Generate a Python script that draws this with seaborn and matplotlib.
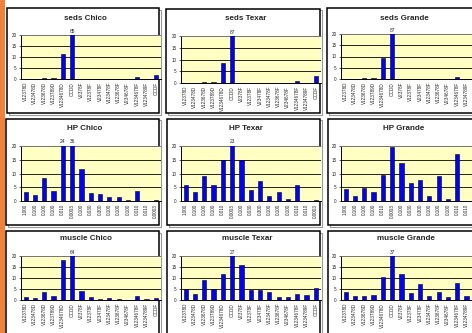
import matplotlib
matplotlib.use("Agg")
import matplotlib.pyplot as plt
import matplotlib.patches as mpatches
import seaborn as sns
import pandas as pd

sns.set_style("white")
plt.rcParams['font.family'] = ['Liberation Sans', 'DejaVu Sans']

congeners = ["V12378D", "V123478D", "V123678D", "V123789D", "V1234678D", "OCDD",
             "V2378F", "V12378F", "V23478F", "V123478F", "V123678F", "V234678F",
             "V1234678F", "V1234789F", "OCDF"]
tef_labels = ["1.000", "0.100", "0.100", "0.100", "0.010", "0.0003", "0.100", "0.030",
              "0.300", "0.100", "0.100", "0.100", "0.010", "0.010", "0.0003"]

seds_chico = [0, 0, 0.3, 0.3, 11.5, 85, 0, 0, 0, 0, 0, 0, 0.8, 0, 2.0]
seds_texar = [0, 0.2, 0.5, 0.5, 8.5, 87, 0, 0, 0, 0, 0, 0.2, 1.0, 0, 3.0]
seds_grande = [0, 0, 0.3, 0.5, 9.3, 87, 0, 0, 0, 0, 0, 0.1, 1.0, 0, 1.5]
hp_chico = [3.1, 2.2, 8.2, 3.6, 24, 36, 11.8, 2.8, 2.4, 1.3, 1.3, 0.5, 3.5, 0, 0.3]
hp_texar = [6.0, 3.1, 9.0, 5.7, 14.8, 23, 14.9, 3.9, 7.2, 1.7, 3.1, 0.8, 5.8, 0.1, 0.3]
hp_grande = [4.2, 2.0, 4.8, 3.1, 9.3, 19.5, 13.7, 6.4, 7.8, 2.0, 9.0, 0.6, 17.0, 0.1, 0.5]
muscle_chico = [1.5, 1.1, 3.8, 2.0, 18.3, 64, 4.0, 1.2, 0.5, 1.1, 0.6, 0.1, 2.0, 0.5, 1.0]
muscle_texar = [4.9, 2.6, 9.1, 5.2, 11.7, 27, 15.8, 4.5, 4.5, 3.8, 1.5, 1.2, 2.6, 2.3, 5.4]
muscle_grande = [3.5, 1.8, 1.7, 2.5, 10.3, 37, 11.7, 3.2, 7.2, 2.0, 3.8, 1.2, 7.8, 1.8, 3.0]

titles = ["seds Chico", "seds Texar", "seds Grande",
          "HP Chico", "HP Texar", "HP Grande",
          "muscle Chico", "muscle Texar", "muscle Grande"]
series = [seds_chico, seds_texar, seds_grande,
          hp_chico, hp_texar, hp_grande,
          muscle_chico, muscle_texar, muscle_grande]
yticks = [0, 5, 10, 15, 20]

W, H = 472, 333
fig = plt.figure(figsize=(W / 100, H / 100), dpi=100)
fig.patch.set_facecolor("white")

def fx(x):
    return x / W

def fy(y):
    return 1 - y / H

# left orange strip
fig.add_artist(mpatches.Rectangle((0, 0), fx(5), 1, transform=fig.transFigure,
                                  facecolor="#F0803A", edgecolor="none", zorder=-3))

# frames (x0, y0, x1, y1) in pixels
frames = [(7, 8, 159, 113), (166, 9, 320, 113), (327, 8, 480, 113),
          (6, 119, 159, 225), (167, 119, 320, 225), (328, 119, 480, 225),
          (6, 231, 159, 345), (167, 231, 320, 345), (328, 231, 480, 345)]
# plot areas (x0, top, bottom)
plots = [(21, 35, 79), (181, 36, 83), (341, 34, 79),
         (21, 146, 201), (181, 146, 201), (341, 146, 201),
         (21, 256, 300), (181, 256, 300), (341, 256, 300)]
title_pos = [(85, 18), (246, 18), (404, 19),
             (85, 128), (246, 128), (404, 128),
             (86, 239), (247, 239), (406, 239)]
PW = 139.5

for k in range(9):
    x0, y0, x1, y1 = frames[k]
    # soft shadow
    fig.add_artist(mpatches.Rectangle((fx(x0 + 1.5), fy(y1 + 1.5)), fx(x1 - x0), (y1 - y0) / H,
                                      transform=fig.transFigure, fill=False,
                                      edgecolor="#9a9a9a", linewidth=0.8, zorder=-2))
    fig.add_artist(mpatches.Rectangle((fx(x0), fy(y1)), fx(x1 - x0), (y1 - y0) / H,
                                      transform=fig.transFigure, facecolor="white",
                                      edgecolor="black", linewidth=1.1, zorder=-1))

for k in range(9):
    px, pt, pb = plots[k]
    ax = fig.add_axes([fx(px), fy(pb), fx(PW), (pb - pt) / H])
    df = pd.DataFrame({"cong": congeners, "val": series[k]})
    sns.barplot(data=df, x="cong", y="val", order=congeners, ax=ax,
                color="#0000FF", saturation=1, width=0.45,
                edgecolor="black", linewidth=0.4, zorder=3)
    ax.set_facecolor("#FFFFC4")
    ax.set_ylim(0, 20)
    ax.set_xlim(-0.5, 14.5)
    ax.set_yticks(yticks)
    ax.set_yticklabels([str(t) for t in yticks], fontsize=3.3)
    for t in yticks[1:]:
        ax.axhline(t, color="black", linewidth=0.6, zorder=1)
    ax.set_xticks(range(len(congeners)))
    labels = list(tef_labels if 3 <= k <= 5 else congeners)
    if k % 3 == 2:
        # the last category lies beyond the cropped right edge
        labels[-1] = ""
    ax.set_xticklabels(labels, rotation=90, fontsize=3.3)
    ax.tick_params(axis="y", length=1.5, width=0.5, pad=1.5, left=True)
    ax.tick_params(axis="x", length=0, pad=2)
    ax.set_xlabel("")
    ax.set_ylabel("")
    for s in ["left", "bottom"]:
        ax.spines[s].set_color("black")
        ax.spines[s].set_linewidth(0.7)
    ax.spines["top"].set_color("#999999")
    ax.spines["top"].set_linewidth(0.5)
    ax.spines["right"].set_visible(False)
    for i, v in enumerate(series[k]):
        if v > 20:
            ax.text(i, 20.6, f"{v:g}", ha="center", va="bottom", fontsize=3.5,
                    clip_on=False)
    tx, ty = title_pos[k]
    fig.text(fx(tx), fy(ty), titles[k], ha="center", va="center",
             fontsize=5.8, fontweight="bold")

fig.savefig("out.png", dpi=100, facecolor="white")
